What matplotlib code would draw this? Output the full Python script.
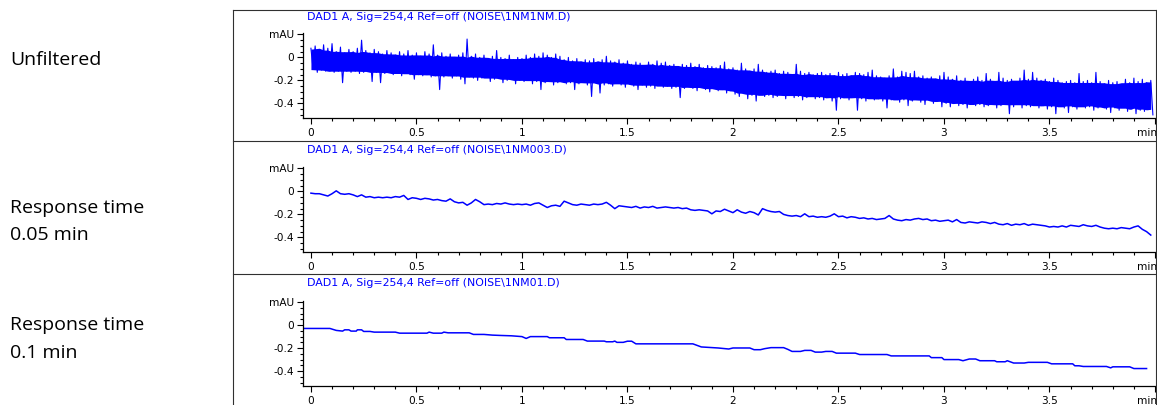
import numpy as np
import pandas as pd
import matplotlib
matplotlib.use("Agg")
import matplotlib.pyplot as plt
from matplotlib.ticker import MultipleLocator, FixedLocator
from matplotlib.lines import Line2D
import matplotlib.transforms as mtransforms

# ---------------- data ----------------
row_labels = [["Unfiltered"], ["Response time", "0.05 min"], ["Response time", "0.1 min"]]
titles = ["DAD1 A, Sig=254,4 Ref=off (NOISE\\1NM1NM.D)",
          "DAD1 A, Sig=254,4 Ref=off (NOISE\\1NM003.D)",
          "DAD1 A, Sig=254,4 Ref=off (NOISE\\1NM01.D)"]
x_ticks = [0, 0.5, 1, 1.5, 2, 2.5, 3, 3.5, 4]
x_tick_labels = ["0", "0.5", "1", "1.5", "2", "2.5", "3", "3.5", "min"]
y_ticks = [0.2, 0, -0.2, -0.4]
y_tick_labels = ["mAU", "0", "-0.2", "-0.4"]

sample_step = 0.02   # min, sampling of the read values

# Unfiltered: max / min of the noise band in each 0.02 min bin (mAU)
unf_hi = [0.08, 0.10, 0.06, 0.11, 0.08, 0.12, 0.05, 0.09, 0.04, 0.07,
          0.05, 0.08, 0.15, 0.06, 0.04, 0.07, 0.05, 0.03, 0.06, 0.04,
          0.02, 0.05, 0.03, 0.06, 0.02, 0.04, 0.01, 0.05, 0.03, 0.11,
          0.02, 0.04, 0.01, 0.03, 0.00, 0.02, 0.04, 0.16, 0.01, 0.03,
          0.00, 0.02, -0.01, 0.01, 0.06, 0.00, -0.01, 0.02, -0.02, 0.00,
          -0.01, 0.02, 0.00, 0.03, 0.01, 0.04, 0.02, 0.00, 0.03, 0.01,
          -0.02, 0.00, -0.03, -0.01, -0.04, -0.02, -0.03, -0.01, -0.04, -0.02,
          0.01, -0.03, -0.04, -0.02, -0.05, -0.03, -0.06, -0.04, -0.05, -0.07,
          -0.04, -0.06, -0.03, -0.05, -0.04, -0.07, -0.06, -0.08, -0.06, -0.07,
          -0.05, -0.08, -0.06, -0.09, -0.07, -0.08, -0.09, -0.07, -0.04, -0.10,
          -0.09, -0.11, -0.05, -0.10, -0.12, -0.10, -0.06, -0.11, -0.13, -0.12,
          -0.11, -0.14, -0.12, -0.13, -0.15, -0.06, -0.12, -0.14, -0.13, -0.15,
          -0.14, -0.13, -0.15, -0.14, -0.16, -0.13, -0.15, -0.14, -0.16, -0.13,
          -0.14, -0.15, -0.13, -0.11, -0.16, -0.17, -0.18, -0.16, -0.10, -0.17,
          -0.12, -0.13, -0.14, -0.12, -0.17, -0.16, -0.18, -0.17, -0.19, -0.16,
          -0.13, -0.17, -0.19, -0.16, -0.20, -0.18, -0.21, -0.19, -0.17, -0.20,
          -0.14, -0.19, -0.21, -0.13, -0.18, -0.20, -0.19, -0.21, -0.18, -0.11,
          -0.19, -0.13, -0.18, -0.20, -0.19, -0.21, -0.18, -0.20, -0.22, -0.21,
          -0.20, -0.22, -0.14, -0.21, -0.20, -0.22, -0.13, -0.21, -0.23, -0.20,
          -0.22, -0.21, -0.24, -0.19, -0.22, -0.18, -0.21, -0.19, -0.22, -0.20]
unf_lo = [-0.10, -0.13, -0.11, -0.12, -0.12, -0.13, -0.12, -0.22, -0.12, -0.13,
          -0.12, -0.14, -0.13, -0.12, -0.21, -0.13, -0.22, -0.14, -0.13, -0.15,
          -0.14, -0.16, -0.14, -0.15, -0.19, -0.15, -0.16, -0.15, -0.17, -0.16,
          -0.28, -0.17, -0.16, -0.18, -0.16, -0.19, -0.23, -0.17, -0.18, -0.20,
          -0.18, -0.17, -0.21, -0.19, -0.18, -0.22, -0.20, -0.19, -0.23, -0.20,
          -0.21, -0.20, -0.23, -0.21, -0.28, -0.22, -0.20, -0.24, -0.22, -0.21,
          -0.23, -0.22, -0.28, -0.23, -0.21, -0.24, -0.34, -0.22, -0.31, -0.24,
          -0.23, -0.25, -0.22, -0.24, -0.26, -0.23, -0.25, -0.28, -0.24, -0.26,
          -0.25, -0.27, -0.24, -0.26, -0.25, -0.27, -0.26, -0.35, -0.27, -0.25,
          -0.27, -0.29, -0.26, -0.28, -0.30, -0.27, -0.29, -0.28, -0.31, -0.29,
          -0.32, -0.34, -0.31, -0.36, -0.33, -0.38, -0.32, -0.34, -0.33, -0.35,
          -0.34, -0.32, -0.36, -0.33, -0.35, -0.34, -0.37, -0.35, -0.33, -0.36,
          -0.35, -0.37, -0.34, -0.38, -0.46, -0.36, -0.35, -0.37, -0.34, -0.46,
          -0.36, -0.38, -0.35, -0.37, -0.36, -0.38, -0.44, -0.37, -0.36, -0.39,
          -0.37, -0.42, -0.38, -0.36, -0.39, -0.41, -0.37, -0.40, -0.38, -0.43,
          -0.40, -0.43, -0.39, -0.42, -0.41, -0.44, -0.40, -0.42, -0.41, -0.43,
          -0.42, -0.40, -0.44, -0.42, -0.41, -0.49, -0.43, -0.41, -0.44, -0.42,
          -0.43, -0.41, -0.44, -0.42, -0.45, -0.43, -0.49, -0.42, -0.44, -0.48,
          -0.43, -0.45, -0.42, -0.44, -0.43, -0.46, -0.44, -0.42, -0.45, -0.48,
          -0.44, -0.46, -0.43, -0.47, -0.45, -0.49, -0.46, -0.47, -0.44, -0.50]

# Response time 0.05 min (mAU, every 0.02 min from 0)
rt005 = [-0.015, -0.02, -0.02, -0.03, -0.04, -0.02, 0.005, -0.02, -0.025, -0.02,
         -0.03, -0.045, -0.03, -0.05, -0.045, -0.055, -0.05, -0.055, -0.05, -0.055,
         -0.045, -0.05, -0.035, -0.07, -0.055, -0.06, -0.07, -0.06, -0.065, -0.075,
         -0.07, -0.08, -0.085, -0.065, -0.09, -0.10, -0.095, -0.12, -0.10, -0.07,
         -0.09, -0.115, -0.11, -0.115, -0.105, -0.11, -0.10, -0.11, -0.115, -0.11,
         -0.115, -0.11, -0.12, -0.105, -0.10, -0.12, -0.14, -0.125, -0.12, -0.13,
         -0.085, -0.10, -0.115, -0.12, -0.11, -0.115, -0.12, -0.11, -0.115, -0.11,
         -0.095, -0.12, -0.15, -0.125, -0.13, -0.135, -0.14, -0.13, -0.145, -0.135,
         -0.14, -0.13, -0.145, -0.14, -0.135, -0.14, -0.145, -0.14, -0.15, -0.145,
         -0.16, -0.165, -0.16, -0.165, -0.17, -0.195, -0.17, -0.175, -0.155, -0.17,
         -0.185, -0.16, -0.18, -0.19, -0.175, -0.185, -0.205, -0.15, -0.165, -0.175,
         -0.18, -0.175, -0.20, -0.21, -0.215, -0.21, -0.22, -0.195, -0.22, -0.215,
         -0.225, -0.22, -0.225, -0.215, -0.195, -0.22, -0.215, -0.23, -0.22, -0.225,
         -0.235, -0.23, -0.24, -0.235, -0.245, -0.24, -0.235, -0.21, -0.24, -0.25,
         -0.255, -0.245, -0.25, -0.24, -0.235, -0.245, -0.24, -0.255, -0.25, -0.26,
         -0.255, -0.25, -0.265, -0.245, -0.27, -0.275, -0.265, -0.27, -0.275, -0.265,
         -0.27, -0.28, -0.27, -0.285, -0.29, -0.28, -0.295, -0.285, -0.29, -0.28,
         -0.295, -0.285, -0.29, -0.295, -0.30, -0.31, -0.305, -0.31, -0.30, -0.31,
         -0.295, -0.30, -0.305, -0.29, -0.30, -0.305, -0.295, -0.31, -0.32, -0.325,
         -0.32, -0.325, -0.315, -0.32, -0.325, -0.31, -0.30, -0.33, -0.35, -0.38]

# Response time 0.1 min: break points of the stepped trace
rt01_time = [-0.036, 0.09, 0.12, 0.15, 0.16, 0.18, 0.19, 0.215, 0.22, 0.24,
             0.25, 0.28, 0.30, 0.40, 0.42, 0.55, 0.56, 0.58, 0.62, 0.63,
             0.65, 0.75, 0.77, 0.82, 0.86, 0.90, 0.95, 1.00, 1.02, 1.04,
             1.12, 1.13, 1.20, 1.21, 1.29, 1.31, 1.39, 1.40, 1.43, 1.44,
             1.45, 1.48, 1.50, 1.52, 1.54, 1.81, 1.85, 1.93, 1.98, 2.00,
             2.08, 2.10, 2.13, 2.15, 2.18, 2.24, 2.26, 2.28, 2.32, 2.34,
             2.37, 2.39, 2.42, 2.44, 2.47, 2.49, 2.58, 2.60, 2.73, 2.75,
             2.93, 2.94, 2.99, 3.00, 3.07, 3.09, 3.12, 3.15, 3.17, 3.24,
             3.25, 3.29, 3.30, 3.33, 3.38, 3.40, 3.49, 3.51, 3.61, 3.62,
             3.64, 3.66, 3.77, 3.79, 3.80, 3.88, 3.90, 3.96]
rt01_value = [-0.029, -0.029, -0.046, -0.052, -0.041, -0.041, -0.052, -0.052, -0.041, -0.041,
              -0.055, -0.055, -0.061, -0.061, -0.070, -0.070, -0.061, -0.070, -0.070, -0.061,
              -0.067, -0.067, -0.081, -0.081, -0.087, -0.090, -0.093, -0.100, -0.116, -0.100,
              -0.100, -0.110, -0.110, -0.125, -0.125, -0.139, -0.139, -0.145, -0.145, -0.139,
              -0.150, -0.150, -0.140, -0.140, -0.163, -0.163, -0.190, -0.199, -0.208, -0.199,
              -0.199, -0.214, -0.214, -0.205, -0.196, -0.196, -0.211, -0.229, -0.229, -0.220,
              -0.220, -0.235, -0.235, -0.229, -0.229, -0.244, -0.244, -0.256, -0.256, -0.268,
              -0.268, -0.283, -0.283, -0.300, -0.300, -0.310, -0.295, -0.295, -0.310, -0.310,
              -0.319, -0.319, -0.310, -0.330, -0.330, -0.324, -0.324, -0.337, -0.337, -0.354,
              -0.354, -0.360, -0.360, -0.372, -0.363, -0.363, -0.378, -0.378]

# ---------------- figure ----------------
W, H = 1157, 405
fig = plt.figure(figsize=(W / 100, H / 100), dpi=100)

BLUE = "#0000ff"
x_min, x_max = -0.039, 4.0
y_min, y_max = -0.53, 0.21

ax_left = 302.7 / W
ax_width = (1155 - 302.7) / W
ax_bottoms_px = [118.3, 252.3, 386.0]
ax_h_px = 85.0
frame_tops_px = [10, 141, 274]
title_y_px = [17, 150, 283.5]
label_y_px = [[60], [208, 235], [325, 353]]

tick_font = dict(family="DejaVu Sans", size=7.6)


def fy(px):
    return 1 - px / H


t_unf = np.arange(len(unf_hi)) * sample_step
t_rt005 = np.arange(len(rt005)) * sample_step

# dense core of the unfiltered band (rolling typical extent of the read envelope)
core_hi = pd.Series(unf_hi).rolling(7, center=True, min_periods=1).quantile(0.2).to_numpy()
core_lo = pd.Series(unf_lo).rolling(7, center=True, min_periods=1).quantile(0.8).to_numpy()

for i in range(3):
    b = ax_bottoms_px[i]
    ax = fig.add_axes([ax_left, fy(b), ax_width, ax_h_px / H])
    if i == 0:
        xs = np.empty(2 * len(t_unf))
        ys = np.empty(2 * len(t_unf))
        xs[0::2] = t_unf
        xs[1::2] = t_unf + sample_step / 2
        ys[0::2] = unf_hi
        ys[1::2] = unf_lo
        ax.fill_between(t_unf, core_lo, core_hi, color=BLUE, lw=0)
        ax.plot(xs, ys, color=BLUE, lw=0.8)
    elif i == 1:
        ax.plot(t_rt005, rt005, color=BLUE, lw=1.1)
    else:
        ax.plot(rt01_time, rt01_value, color=BLUE, lw=1.1)

    ax.set_xlim(x_min, x_max)
    ax.set_ylim(y_min, y_max)
    for s in ["top", "right"]:
        ax.spines[s].set_visible(False)
    for s in ["left", "bottom"]:
        ax.spines[s].set_linewidth(0.9)
        ax.spines[s].set_color("black")
    ax.xaxis.set_major_locator(FixedLocator(x_ticks))
    ax.set_xticklabels(x_tick_labels, **tick_font)
    ax.xaxis.set_minor_locator(MultipleLocator(0.1))
    ax.yaxis.set_major_locator(FixedLocator(y_ticks))
    ax.set_yticklabels(y_tick_labels, **tick_font)
    ax.yaxis.set_minor_locator(MultipleLocator(0.05))
    ax.tick_params(which="major", direction="out", length=4, width=0.8, pad=2)
    ax.tick_params(which="minor", direction="out", length=2.5, width=0.8)
    ax.tick_params(axis="x", which="major", pad=3)
    ax.patch.set_alpha(0)
    # unit label "min" sits at the axis end, right aligned so it stays inside
    last = ax.get_xticklabels()[-1]
    last.set_horizontalalignment("right")
    last.set_transform(last.get_transform() +
                       mtransforms.ScaledTranslation(2 / 100, 0, fig.dpi_scale_trans))

    fig.text(307 / W, fy(title_y_px[i]), titles[i], color=BLUE,
             family="DejaVu Sans", size=7.9, ha="left", va="center")

    for txt, ypx in zip(row_labels[i], label_y_px[i]):
        fig.text(10 / W, fy(ypx), txt, family=["Open Sans", "Roboto"],
                 size=14, ha="left", va="center", color="black")

# panel frames
frame_color = "#303030"
fig.add_artist(Line2D([233 / W, 233 / W], [fy(frame_tops_px[0]), 0], color=frame_color, lw=0.8))
fig.add_artist(Line2D([1155.5 / W, 1155.5 / W], [fy(frame_tops_px[0]), 0], color=frame_color, lw=0.8))
for t in frame_tops_px:
    fig.add_artist(Line2D([233 / W, 1155.5 / W], [fy(t), fy(t)], color=frame_color, lw=0.8))

fig.savefig("out.png", dpi=100)
